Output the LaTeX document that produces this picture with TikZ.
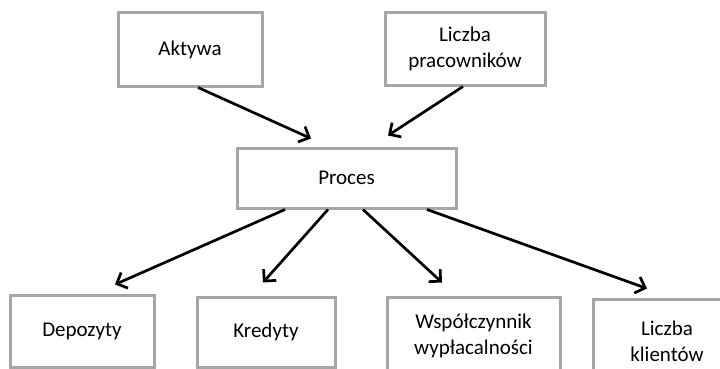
\documentclass[tikz,border=0pt]{standalone}
\usepackage{fontspec}
\setmainfont{Carlito}
\usetikzlibrary{arrows.meta}
\definecolor{boxgray}{RGB}{166,166,166}

\begin{document}
\begin{tikzpicture}[x=1pt,y=-1pt]
    \useasboundingbox (0,0) rectangle (720,369);
    \begin{scope}[every node/.style={rectangle,draw=boxgray,line width=3pt,fill=white,
        inner sep=2pt,align=center,font=\fontsize{21}{26}\selectfont}]
      \node[minimum width=144pt,minimum height=73pt] (aktywa) at (190,49.5) {Aktywa};
      \node[minimum width=160pt,minimum height=72pt] (pracownicy) at (465,49) {Liczba\\pracowników};
      \node[minimum width=219pt,minimum height=60pt] (proces) at (346.5,178) {Proces};
      \node[minimum width=144pt,minimum height=72pt] (depozyty) at (82,331) {Depozyty};
      \node[minimum width=138pt,minimum height=70pt] (kredyty) at (266,332) {Kredyty};
      \node[minimum width=173pt,minimum height=78pt] (wspolczynnik) at (473.5,336) {Współczynnik\\wypłacalności};
      \node[minimum width=148pt,minimum height=84pt] (klienci) at (667,341) {Liczba\\klientów};
    \end{scope}

    \begin{scope}[>={Straight Barb[length=8.5pt,width=17pt]},
        every edge/.style={draw=black,line width=2.7pt}]
      \path [->] ([xshift=8pt]aktywa.south) edge ([xshift=-35.5pt,yshift=8pt]proces.north);
      \path [->] ([xshift=-2pt]pracownicy.south) edge ([xshift=41.5pt,yshift=11pt]proces.north);
      \path [->] ([xshift=-61.5pt]proces.south) edge ([xshift=33pt,yshift=9pt]depozyty.north);
      \path [->] ([xshift=-18.5pt]proces.south) edge ([xshift=-3pt,yshift=13pt]kredyty.north);
      \path [->] ([xshift=16.5pt]proces.south) edge ([xshift=-31.5pt,yshift=13pt]wspolczynnik.north);
      \path [->] ([xshift=80.5pt]proces.south) edge ([xshift=-20pt,yshift=9pt]klienci.north);
    \end{scope}
  \end{tikzpicture}
\end{document}
